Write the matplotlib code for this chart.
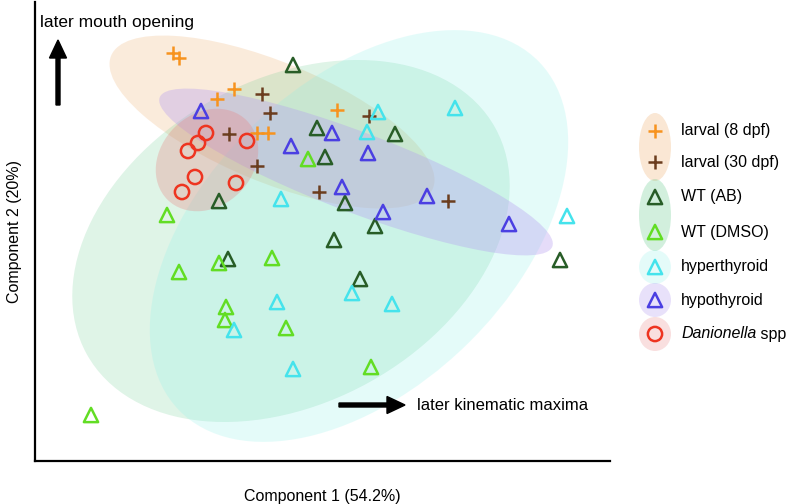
import matplotlib.pyplot as plt
from matplotlib.patches import Ellipse

plt.rcParams['font.family'] = ['Liberation Sans', 'DejaVu Sans']

# PCA scores (component 1, component 2) per group
larval8_x = [1.38, 1.44, 1.82, 1.99, 2.22, 2.33, 3.02]
larval8_y = [4.08, 4.03, 3.62, 3.72, 3.28, 3.28, 3.51]

larval30_x = [2.27, 2.35, 1.94, 2.22, 2.84, 3.34, 4.13]
larval30_y = [3.67, 3.48, 3.27, 2.95, 2.69, 3.45, 2.60]

wt_ab_x = [2.58, 2.82, 2.90, 3.60, 1.84, 3.10, 3.40, 2.99, 3.25, 5.25, 1.93]
wt_ab_y = [3.96, 3.33, 3.04, 3.27, 2.60, 2.58, 2.35, 2.21, 1.82, 2.01, 2.02]

wt_dmso_x = [2.73, 1.32, 1.44, 1.84, 2.37, 1.91, 1.90, 2.51, 0.56, 3.36]
wt_dmso_y = [3.02, 2.46, 1.89, 1.98, 2.03, 1.54, 1.41, 1.33, 0.46, 0.94]

hyper_x = [3.43, 3.32, 4.20, 2.46, 5.32, 2.42, 1.99, 2.58, 3.17, 3.57]
hyper_y = [3.49, 3.29, 3.53, 2.62, 2.45, 1.59, 1.31, 0.92, 1.68, 1.57]

hypo_x = [1.66, 2.56, 2.97, 3.33, 3.07, 3.48, 3.92, 4.74]
hypo_y = [3.50, 3.15, 3.28, 3.08, 2.74, 2.49, 2.65, 2.37]

dan_x = [1.71, 1.63, 1.53, 2.12, 1.60, 1.47, 2.01]
dan_y = [3.28, 3.18, 3.10, 3.20, 2.84, 2.69, 2.78]

# group ellipses: center x, center y, width, height, angle
ell_names = ['larval', 'WT', 'hyperthyroid', 'hypothyroid', 'Danionella']
ell_cx = [2.37, 2.56, 3.24, 3.21, 1.72]
ell_cy = [3.39, 2.20, 2.25, 2.89, 3.01]
ell_w = [3.48, 4.67, 5.01, 4.20, 1.12]
ell_h = [1.20, 3.23, 3.06, 0.80, 0.92]
ell_ang = [-22.4, 29, 44, -20.8, 45]
ell_col = ['#efb071', '#60c888', '#88f0e8', '#b59cf0', '#e88080']
ell_alpha = [0.25, 0.2, 0.22, 0.35, 0.3]

fig = plt.figure(figsize=(8, 5.04), dpi=100)
ax = fig.add_axes([35 / 800, 43 / 504, 575 / 800, 459 / 504])

for i in range(len(ell_names)):
    e = Ellipse((ell_cx[i], ell_cy[i]), ell_w[i], ell_h[i], angle=ell_ang[i],
                facecolor=ell_col[i], alpha=ell_alpha[i], edgecolor='none', zorder=1)
    ax.add_patch(e)

ms = 105
lw = 1.8
ax.scatter(larval8_x, larval8_y, marker='+', s=ms, color='#f7931e', linewidths=lw, zorder=3)
ax.scatter(larval30_x, larval30_y, marker='+', s=ms, color='#6b3d1e', linewidths=lw, zorder=3)
ax.scatter(wt_ab_x, wt_ab_y, marker='^', s=ms, facecolors='none', edgecolors='#285d27', linewidths=lw, zorder=3)
ax.scatter(wt_dmso_x, wt_dmso_y, marker='^', s=ms, facecolors='none', edgecolors='#62dd24', linewidths=lw, zorder=3)
ax.scatter(hyper_x, hyper_y, marker='^', s=ms, facecolors='none', edgecolors='#45e3ec', linewidths=lw, zorder=3)
ax.scatter(hypo_x, hypo_y, marker='^', s=ms, facecolors='none', edgecolors='#4b3fe2', linewidths=lw, zorder=3)
ax.scatter(dan_x, dan_y, marker='o', s=ms, facecolors='none', edgecolors='#ee3420', linewidths=lw, zorder=3)

ax.set_xlim(0, 5.75)
ax.set_ylim(0, 4.59)
ax.set_xticks([])
ax.set_yticks([])
for s in ['top', 'right']:
    ax.spines[s].set_visible(False)
for s in ['left', 'bottom']:
    ax.spines[s].set_linewidth(1.6)
ax.set_xlabel('Component 1 (54.2%)', fontsize=11.5, labelpad=20)
ax.set_ylabel('Component 2 (20%)', fontsize=11.5, labelpad=9)

# direction hints
ax.text(0.05, 4.38, 'later mouth opening', fontsize=12.5, va='center', ha='left')
ax.arrow(0.23, 3.56, 0, 0.65, width=0.04, head_width=0.17, head_length=0.18,
         length_includes_head=True, color='black', zorder=4)
ax.text(3.82, 0.56, 'later kinematic maxima', fontsize=12, va='center', ha='left')
ax.arrow(3.04, 0.56, 0.66, 0, width=0.04, head_width=0.17, head_length=0.18,
         length_includes_head=True, color='black', zorder=4)

# legend drawn by hand (grouped background blobs)
lg = fig.add_axes([0.75, 0, 0.25, 1])
lg.set_xlim(600, 800)
lg.set_ylim(504, 0)
lg.axis('off')
mx = 655
blob_y = [147, 215, 267, 300, 334]
blob_h = [68, 72, 34, 34, 34]
blob_a = [0.3, 0.28, 0.22, 0.3, 0.25]
for i in range(5):
    lg.add_patch(Ellipse((mx, blob_y[i]), 32, blob_h[i], facecolor=ell_col[i],
                         alpha=blob_a[i], edgecolor='none'))
leg_y = [131, 162, 197, 232, 267, 300, 334]
leg_lab = ['larval (8 dpf)', 'larval (30 dpf)', 'WT (AB)', 'WT (DMSO)',
           'hyperthyroid', 'hypothyroid']
leg_mk = ['+', '+', '^', '^', '^', '^', 'o']
leg_col = ['#f7931e', '#6b3d1e', '#285d27', '#62dd24', '#45e3ec', '#4b3fe2', '#ee3420']
for i in range(7):
    if leg_mk[i] == '+':
        lg.scatter([mx], [leg_y[i]], marker='+', s=ms, color=leg_col[i], linewidths=lw)
    else:
        lg.scatter([mx], [leg_y[i]], marker=leg_mk[i], s=ms, facecolors='none',
                   edgecolors=leg_col[i], linewidths=lw)
    if i < 6:
        lg.text(681, leg_y[i], leg_lab[i], fontsize=11.5, va='center', ha='left')
t = lg.text(681, leg_y[6], 'Danionella', fontsize=11.5, style='italic', va='center', ha='left')
lg.annotate(' spp', xy=(1, 0.5), xycoords=t, fontsize=11.5, va='center', ha='left')

fig.savefig('out.png', dpi=100)
